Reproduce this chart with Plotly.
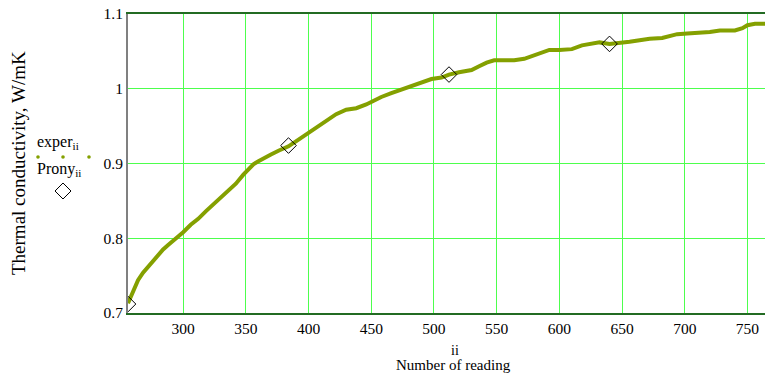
import plotly.graph_objects as go

# Measured thermal conductivity vs. reading number
ii = [256, 260, 264, 268, 272, 276, 280, 284, 288, 294, 300, 306, 312, 318,
      324, 330, 336, 342, 348, 352, 356, 360, 364, 370, 376, 384, 392, 400,
      408, 416, 422, 430, 438, 446, 452, 458, 466, 474, 482, 490, 498, 506,
      512, 520, 530, 536, 542, 548, 556, 564, 572, 578, 584, 592, 600, 610,
      618, 626, 632, 640, 648, 656, 664, 672, 682, 688, 694, 702, 712, 720,
      728, 740, 746, 750, 756, 764]
exper = [0.713, 0.728, 0.744, 0.754, 0.762, 0.770, 0.778, 0.785, 0.791, 0.799,
         0.808, 0.818, 0.826, 0.836, 0.845, 0.854, 0.863, 0.873, 0.885, 0.892,
         0.899, 0.903, 0.907, 0.912, 0.917, 0.923, 0.932, 0.941, 0.950, 0.960,
         0.966, 0.972, 0.974, 0.979, 0.984, 0.989, 0.994, 0.999, 1.004, 1.009,
         1.013, 1.015, 1.019, 1.022, 1.025, 1.030, 1.035, 1.038, 1.038, 1.038,
         1.040, 1.044, 1.047, 1.052, 1.052, 1.053, 1.058, 1.061, 1.062, 1.060,
         1.061, 1.063, 1.065, 1.067, 1.068, 1.070, 1.073, 1.074, 1.075, 1.076,
         1.078, 1.078, 1.081, 1.085, 1.087, 1.087]

# Prony-series fit evaluated every 128 readings
prony_ii = [256, 384, 512, 640]
prony = [0.712, 0.924, 1.019, 1.060]

x_ticks = [300, 350, 400, 450, 500, 550, 600, 650, 700, 750]
y_ticks = [0.7, 0.8, 0.9, 1.0, 1.1]
y_ticktext = ["0.7", "0.8", "0.9", "1", "1.1"]

W, H = 765, 374
L, R, T, B = 128, 0, 14, 61
FONT = "Liberation Serif"
CURVE = "#84a000"
GRID = "#4dff4d"


def px(xp):
    return (xp - L) / (W - L - R)


def py(yp):
    return (H - B - yp) / (H - T - B)


fig = go.Figure()
fig.add_trace(go.Scatter(x=ii, y=exper, mode="lines",
                         line=dict(color=CURVE, width=4),
                         showlegend=False))
fig.add_trace(go.Scatter(x=prony_ii, y=prony, mode="markers",
                         marker=dict(symbol="diamond-open", size=12,
                                     color="black", line=dict(width=1)),
                         showlegend=False))

fig.update_xaxes(range=[256, 764], tickvals=x_ticks, showgrid=True,
                 gridcolor=GRID, gridwidth=1, zeroline=False,
                 showline=True, linecolor="#236b23", linewidth=2, mirror=True,
                 ticks="", tickfont=dict(family=FONT, size=15.5, color="black"))
fig.update_yaxes(range=[0.7, 1.1], tickvals=y_ticks, ticktext=y_ticktext,
                 showgrid=True, gridcolor=GRID, gridwidth=1, zeroline=False,
                 showline=True, linecolor="#808080", linewidth=2,
                 ticks="", tickfont=dict(family=FONT, size=15.5, color="black"))

ann = [
    dict(x=px(18), y=py(163), text="Thermal conductivity, W/mK", textangle=-90,
         font=dict(family=FONT, size=19, color="black")),
    dict(x=px(455), y=py(350), text="ii",
         font=dict(family=FONT, size=14, color="black")),
    dict(x=px(453), y=py(365), text="Number of reading",
         font=dict(family=FONT, size=15, color="black")),
    dict(x=px(58), y=py(142), text="exper<sub>ii</sub>",
         font=dict(family=FONT, size=16, color="black")),
    dict(x=px(59), y=py(169), text="Prony<sub>ii</sub>",
         font=dict(family=FONT, size=16, color="black")),
]
for a in ann:
    a.update(xref="paper", yref="paper", showarrow=False,
             xanchor="center", yanchor="middle")

# Legend key glyphs: three dots for the measured series, a diamond for the fit
shapes = []
for cx in (38, 63, 89):
    shapes.append(dict(type="circle", xref="paper", yref="paper",
                       x0=px(cx - 1.8), x1=px(cx + 1.8),
                       y0=py(157 + 1.8), y1=py(157 - 1.8),
                       fillcolor=CURVE, line=dict(width=0)))
dx, dy, r = 63, 191, 8
shapes.append(dict(type="path", xref="paper", yref="paper",
                   path=(f"M {px(dx)} {py(dy - r)} L {px(dx + r)} {py(dy)} "
                         f"L {px(dx)} {py(dy + r)} L {px(dx - r)} {py(dy)} Z"),
                   line=dict(color="black", width=1)))

fig.update_layout(annotations=ann, shapes=shapes)
fig.update_layout(width=W, height=H, margin=dict(l=L, r=R, t=T, b=B),
                  paper_bgcolor="white", plot_bgcolor="white",
                  font=dict(family=FONT, color="black"))
fig.write_html("out.html")
